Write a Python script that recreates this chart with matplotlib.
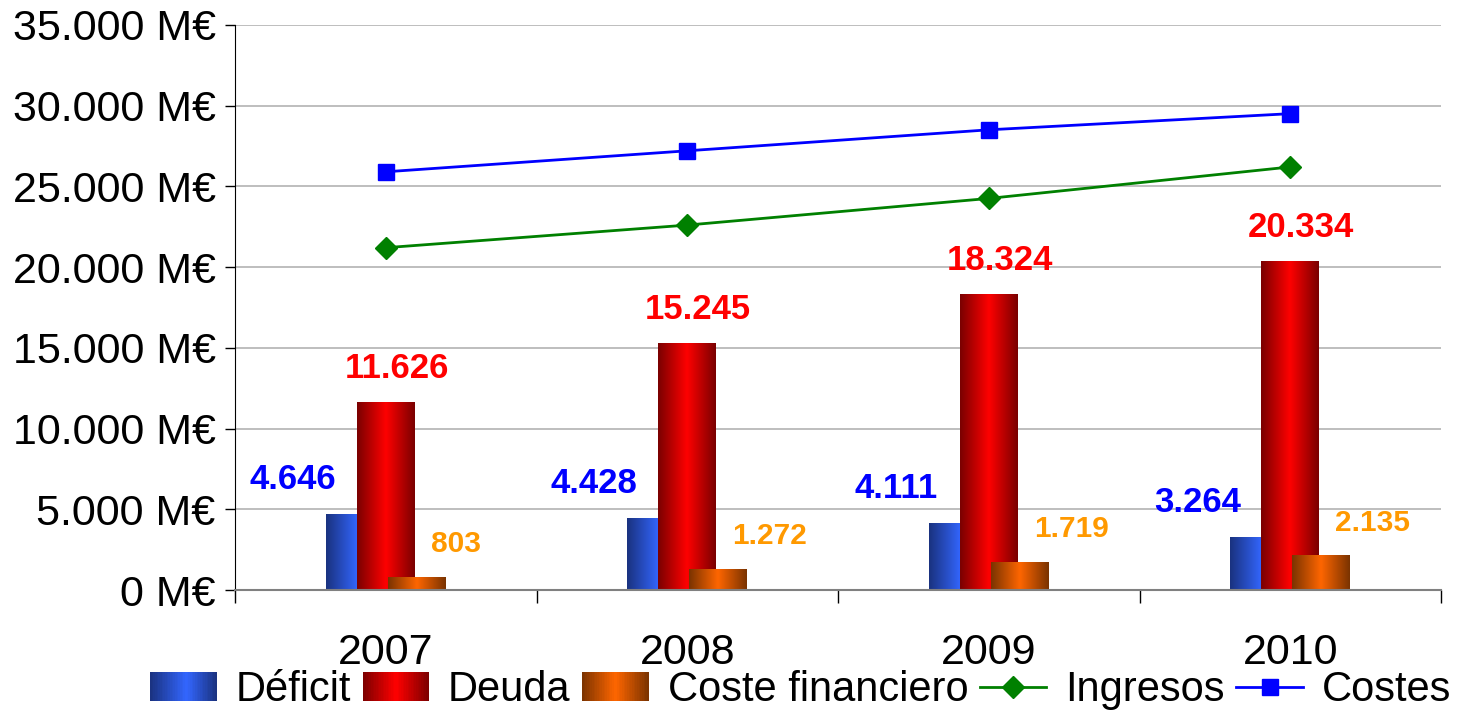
import numpy as np
import matplotlib
matplotlib.use("Agg")
import matplotlib.pyplot as plt
from matplotlib.colors import LinearSegmentedColormap
from matplotlib.patches import Rectangle
from matplotlib.lines import Line2D
from matplotlib.legend_handler import HandlerBase
from matplotlib.ticker import FixedLocator, FuncFormatter

plt.rcParams['font.family'] = ['Liberation Sans', 'DejaVu Sans']

years = ["2007", "2008", "2009", "2010"]
deficit = [4646, 4428, 4111, 3264]
deuda = [11626, 15245, 18324, 20334]
coste_fin = [803, 1272, 1719, 2135]
ingresos = [21200, 22600, 24250, 26200]
costes = [25900, 27200, 28500, 29500]

def fmt_es(v):
    return f"{v:,.0f}".replace(",", ".")

cm_blue = LinearSegmentedColormap.from_list("b", [(0, "#1a327f"), (0.55, "#3366ff"), (1, "#1a327f")])
cm_red = LinearSegmentedColormap.from_list("r", [(0, "#7a0000"), (0.5, "#ff0000"), (1, "#7a0000")])
cm_orange = LinearSegmentedColormap.from_list("o", [(0, "#7a3300"), (0.5, "#ff6600"), (1, "#7a3300")])

fig = plt.figure(figsize=(14.69, 7.10), dpi=100)
ax = fig.add_axes([0.16, 0.169, 0.821, 0.796])

x = np.arange(len(years))
w = 0.192
off = 0.103
grad = np.linspace(0, 1, 128)[np.newaxis, :]

series = [(deficit, -off, cm_blue, 2.0), (deuda, 0.0, cm_red, 2.1), (coste_fin, off, cm_orange, 2.2)]
bar_containers = []
for vals, dx, cmap, z in series:
    bc = ax.bar(x + dx, vals, width=w, color='none', edgecolor='none', zorder=z)
    bar_containers.append(bc)
    for rect in bc:
        x0, y0 = rect.get_x(), rect.get_y()
        ax.imshow(grad, cmap=cmap, extent=[x0, x0 + rect.get_width(), y0, y0 + rect.get_height()],
                  aspect='auto', zorder=z, interpolation='bilinear')

ax.plot(x, ingresos, color="#008000", lw=2, marker='D', ms=11, zorder=4)
ax.plot(x, costes, color="#0000ff", lw=2, marker='s', ms=11, zorder=4)

# value labels
for rect, v in zip(bar_containers[0], deficit):
    ax.annotate(fmt_es(v), (rect.get_x() + rect.get_width() / 2, v), xytext=(-62, 35),
                textcoords='offset pixels', ha='center', va='center', color='#0000ff',
                fontsize=25, fontweight='bold')
for rect, v in zip(bar_containers[1], deuda):
    ax.annotate(fmt_es(v), (rect.get_x() + rect.get_width() / 2, v), xytext=(11, 34),
                textcoords='offset pixels', ha='center', va='center', color='#ff0000',
                fontsize=25, fontweight='bold')
for rect, v in zip(bar_containers[2], coste_fin):
    ax.annotate(fmt_es(v), (rect.get_x() + rect.get_width() / 2, v), xytext=(14, 33),
                textcoords='offset pixels', ha='left', va='center', color='#ff9900',
                fontsize=21.5, fontweight='bold')

ax.set_xlim(-0.5, len(years) - 0.5)
ax.set_ylim(0, 35000)
ax.set_yticks(np.arange(0, 35001, 5000))
ax.yaxis.set_major_formatter(FuncFormatter(lambda v, p: f"{fmt_es(v)} M€"))
ax.set_xticks(x)
ax.set_xticklabels(years)
ax.xaxis.set_minor_locator(FixedLocator(np.arange(-0.5, len(years), 1.0)))
ax.tick_params(axis='x', which='major', length=0, pad=31, labelsize=31)
ax.tick_params(axis='x', which='minor', length=9, width=1, direction='out', color='black')
ax.tick_params(axis='y', which='major', length=7, width=1, pad=7, labelsize=31, direction='out')

ax.grid(axis='y', color='#b3b3b3', lw=1.2)
ax.set_axisbelow(True)
for s in ['top', 'right']:
    ax.spines[s].set_visible(False)
ax.spines['bottom'].set_color('#808080')
ax.spines['bottom'].set_linewidth(1.5)
ax.spines['left'].set_color('black')

class GradientHandler(HandlerBase):
    def __init__(self, cmap):
        super().__init__()
        self.cmap = cmap
    def create_artists(self, legend, orig_handle, xdescent, ydescent, width, height, fontsize, trans):
        n = 40
        arts = []
        for i in range(n):
            r = Rectangle((-xdescent + width * i / n, -ydescent), width / n * 1.1, height,
                          facecolor=self.cmap((i + 0.5) / n), edgecolor='none', transform=trans)
            arts.append(r)
        return arts

h_def = Rectangle((0, 0), 1, 1)
h_deu = Rectangle((0, 0), 1, 1)
h_cf = Rectangle((0, 0), 1, 1)
h_ing = Line2D([], [], color="#008000", lw=2, marker='D', ms=11)
h_cos = Line2D([], [], color="#0000ff", lw=2, marker='s', ms=11)
fig.legend([h_def, h_deu, h_cf, h_ing, h_cos],
           ["Déficit", "Deuda", "Coste financiero", "Ingresos", "Costes"],
           handler_map={h_def: GradientHandler(cm_blue), h_deu: GradientHandler(cm_red),
                        h_cf: GradientHandler(cm_orange)},
           loc='center', bbox_to_anchor=(0.545, 0.028), ncol=5, frameon=False,
           fontsize=30, handlelength=1.6, handletextpad=0.45, columnspacing=0.28,
           borderpad=0, borderaxespad=0)

fig.savefig("out.png", dpi=100)
